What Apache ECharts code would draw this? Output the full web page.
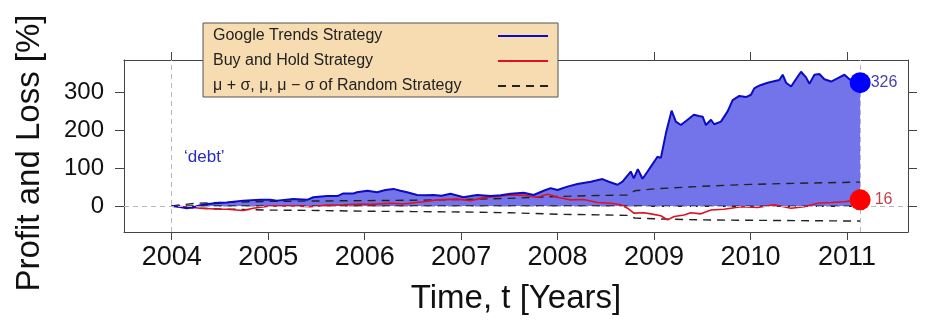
<!DOCTYPE html>
<html><head><meta charset="utf-8">
<script src="https://cdn.jsdelivr.net/npm/echarts@6/dist/echarts.min.js"></script>
<style>html,body{margin:0;padding:0;background:#fff}#c{width:927px;height:324px}</style>
</head><body><div id="c"></div>
<script>
// ---- data ----
const xTickYears = [2004, 2005, 2006, 2007, 2008, 2009, 2010, 2011];
const yTickValues = [0, 100, 200, 300];

const googleYears = [2004.000,2004.086,2004.156,2004.242,2004.325,2004.450,2004.571,2004.740,2004.917,2005.021,2005.090,2005.260,2005.405,2005.467,2005.610,2005.717,2005.779,2005.883,2005.921,2006.028,2006.129,2006.215,2006.298,2006.371,2006.440,2006.544,2006.630,2006.713,2006.797,2006.890,2007.025,2007.098,2007.167,2007.305,2007.409,2007.513,2007.648,2007.752,2007.856,2007.928,2007.998,2008.102,2008.206,2008.344,2008.465,2008.531,2008.621,2008.673,2008.759,2008.790,2008.832,2008.881,2008.933,2008.967,2009.036,2009.071,2009.123,2009.182,2009.226,2009.278,2009.348,2009.413,2009.465,2009.504,2009.538,2009.590,2009.624,2009.694,2009.763,2009.815,2009.884,2009.953,2010.005,2010.039,2010.075,2010.109,2010.179,2010.231,2010.299,2010.334,2010.369,2010.421,2010.455,2010.524,2010.576,2010.611,2010.663,2010.714,2010.766,2010.836,2010.906,2010.974,2011.026,2011.078,2011.137];
const googleValues = [0,-3,-6,-2,4,7,9,14,16,16,14,18,16,23,26,26,33,33,36,40,36,42,45,40,36,29,28,29,27,32,23,26,29,26,28,32,35,29,40,47,42,51,58,64,71,64,56,64,91,73,97,72,91,104,130,127,192,252,223,214,228,241,238,236,214,228,216,223,250,280,291,288,294,311,316,320,326,329,333,347,326,316,329,355,340,323,347,349,335,329,338,347,335,329,326];

const buyHoldYears = [2004.000,2004.156,2004.294,2004.450,2004.571,2004.740,2004.844,2005.021,2005.260,2005.436,2005.610,2005.779,2005.955,2006.059,2006.267,2006.402,2006.610,2006.752,2006.960,2007.098,2007.233,2007.375,2007.513,2007.648,2007.790,2007.894,2007.928,2007.998,2008.136,2008.271,2008.413,2008.551,2008.655,2008.725,2008.790,2008.897,2008.967,2009.071,2009.140,2009.209,2009.312,2009.382,2009.486,2009.590,2009.725,2009.902,2010.075,2010.244,2010.421,2010.556,2010.698,2010.836,2010.971,2011.137];
const buyHoldValues = [0,-3,-6,-8,-9,-12,-6,0,0,-2,2,3,5,4,7,5,11,16,18,14,22,25,29,28,23,31,29,23,16,17,9,7,3,-6,-19,-18,-21,-26,-37,-28,-24,-18,-21,-11,-9,-2,-4,3,-6,-2,7,9,11,16];

const randomYears = [2004.00,2004.25,2004.50,2005.00,2005.50,2006.00,2006.50,2007.00,2007.50,2008.00,2008.50,2008.72,2008.80,2009.00,2009.50,2010.00,2010.50,2011.137];
const randomUpper = [0,7,9,12,13,14,15,17,20,25,28,29,40,45,52,57,60,63];
const randomMean  = [0,0,0,0,0,0,0,0,0,0,0,0,0,-1,-1,-1,-1,-1];
const randomLower = [0,-6,-8,-11,-12,-14,-15,-16,-18,-22,-24,-25,-32,-34,-37,-38,-39,-40];

const startYear = 2004.0;
const endYear = 2011.137;
const finalGoogle = 326;
const finalBuyHold = 16;

const legendNames = ['Google Trends Strategy', 'Buy and Hold Strategy', 'μ + σ, μ, μ − σ of Random Strategy'];

// ---- build ----
const pairs = (xs, ys) => xs.map((x, i) => [x, ys[i]]);
const X_MIN = 2003.505, X_MAX = 2011.633, Y_MIN = -69, Y_MAX = 386;
const FONT = '"Liberation Sans", Arial, sans-serif';
const NARROW = '"Liberation Sans Narrow", "Liberation Sans", Arial, sans-serif';
const dashStyle = {color: '#222', width: 1.4, type: [8, 6]};

const chart = echarts.init(document.getElementById('c'), null, {renderer: 'canvas'});
chart.setOption({
  animation: false,
  backgroundColor: '#fff',
  grid: {left: 124, top: 60, right: 19, bottom: 92, show: false},
  legend: {
    data: legendNames,
    orient: 'vertical',
    left: 203, top: 23,
    align: 'right',
    padding: [5, 9, 3, 10],
    itemGap: 9,
    itemWidth: 50, itemHeight: 14,
    backgroundColor: '#f6dcb0',
    borderColor: '#555', borderWidth: 1,
    itemStyle: {opacity: 0},
    formatter: name => '{t|' + name + '}',
    textStyle: {
      fontFamily: FONT, fontSize: 16, color: '#222',
      rich: {t: {width: 280, align: 'left', fontFamily: FONT, fontSize: 16, color: '#222', lineHeight: 18}}
    },
    selectedMode: false
  },
  xAxis: [{
    type: 'value', min: X_MIN, max: X_MAX, position: 'bottom',
    axisLine: {show: true, onZero: false, lineStyle: {color: '#444', width: 1}},
    axisTick: {show: true, inside: false, length: 8, customValues: xTickYears, lineStyle: {color: '#444'}},
    axisLabel: {show: true, customValues: xTickYears, margin: 12, fontFamily: NARROW, fontSize: 27, color: '#111', formatter: v => String(Math.round(v))},
    splitLine: {show: false},
    name: 'Time, t [Years]', nameLocation: 'middle', nameGap: 50,
    nameTextStyle: {fontFamily: NARROW, fontSize: 33, color: '#111'}
  }, {
    type: 'value', min: X_MIN, max: X_MAX, position: 'top',
    axisLine: {show: true, onZero: false, lineStyle: {color: '#444', width: 1}},
    axisTick: {show: true, inside: false, length: 8, customValues: xTickYears, lineStyle: {color: '#444'}},
    axisLabel: {show: false}, splitLine: {show: false}
  }],
  yAxis: [{
    type: 'value', min: Y_MIN, max: Y_MAX, position: 'left',
    axisLine: {show: true, onZero: false, lineStyle: {color: '#444', width: 1}},
    axisTick: {show: true, inside: false, length: 9, customValues: yTickValues, lineStyle: {color: '#444'}},
    axisLabel: {show: true, customValues: yTickValues, margin: 20, fontFamily: FONT, fontSize: 24, color: '#111'},
    splitLine: {show: false},
    name: 'Profit and Loss [%]', nameLocation: 'middle', nameGap: 78,
    nameTextStyle: {fontFamily: FONT, fontSize: 33, color: '#111', padding: [0, 14, 0, 0]}
  }, {
    type: 'value', min: Y_MIN, max: Y_MAX, position: 'right',
    axisLine: {show: true, onZero: false, lineStyle: {color: '#444', width: 1}},
    axisTick: {show: true, inside: false, length: 9, customValues: yTickValues, lineStyle: {color: '#444'}},
    axisLabel: {show: false}, splitLine: {show: false}
  }],
  graphic: [{
    type: 'text', left: 184, top: 149,
    style: {text: '‘debt’', fontFamily: FONT, fontSize: 17, fill: '#2b2bbf'}
  }],
  series: [
    {
      name: 'Google Trends area', type: 'line', data: pairs(googleYears, googleValues),
      symbol: 'none', lineStyle: {width: 0}, areaStyle: {color: '#7474ea', opacity: 1},
      silent: true, z: 1,
      markLine: {
        silent: true, symbol: 'none', label: {show: false},
        lineStyle: {color: '#b8b8b8', type: [5, 4], width: 1},
        data: [{xAxis: startYear}, {xAxis: endYear}, {yAxis: 0}]
      }
    },
    {name: legendNames[2], type: 'line', data: pairs(randomYears, randomUpper), symbol: 'none', lineStyle: dashStyle, itemStyle: {color: '#222'}, z: 2},
    {name: legendNames[2], type: 'line', data: pairs(randomYears, randomMean), symbol: 'none', lineStyle: dashStyle, itemStyle: {color: '#222'}, z: 2},
    {name: legendNames[2], type: 'line', data: pairs(randomYears, randomLower), symbol: 'none', lineStyle: dashStyle, itemStyle: {color: '#222'}, z: 2},
    {name: legendNames[1], type: 'line', data: pairs(buyHoldYears, buyHoldValues), symbol: 'none', lineStyle: {color: '#dd1122', width: 1.6}, itemStyle: {color: '#dd1122'}, z: 3},
    {name: legendNames[0], type: 'line', data: pairs(googleYears, googleValues), symbol: 'none', lineStyle: {color: '#0b0bc4', width: 2}, itemStyle: {color: '#2a3a9a'}, z: 4},
    {
      name: 'Google final', type: 'scatter', data: [[endYear, finalGoogle]], symbolSize: 21,
      itemStyle: {color: '#0000ff', opacity: 1}, z: 5,
      label: {show: true, position: 'right', distance: 0, formatter: '{@[1]}', fontFamily: FONT, fontSize: 16, color: '#4444b4'}
    },
    {
      name: 'Buy and hold final', type: 'scatter', data: [[endYear, finalBuyHold]], symbolSize: 21,
      itemStyle: {color: '#ff0000', opacity: 1}, z: 5,
      label: {show: true, position: 'right', distance: 4, formatter: '{@[1]}', fontFamily: FONT, fontSize: 16, color: '#c04050'}
    }
  ]
});
</script>
</body></html>
